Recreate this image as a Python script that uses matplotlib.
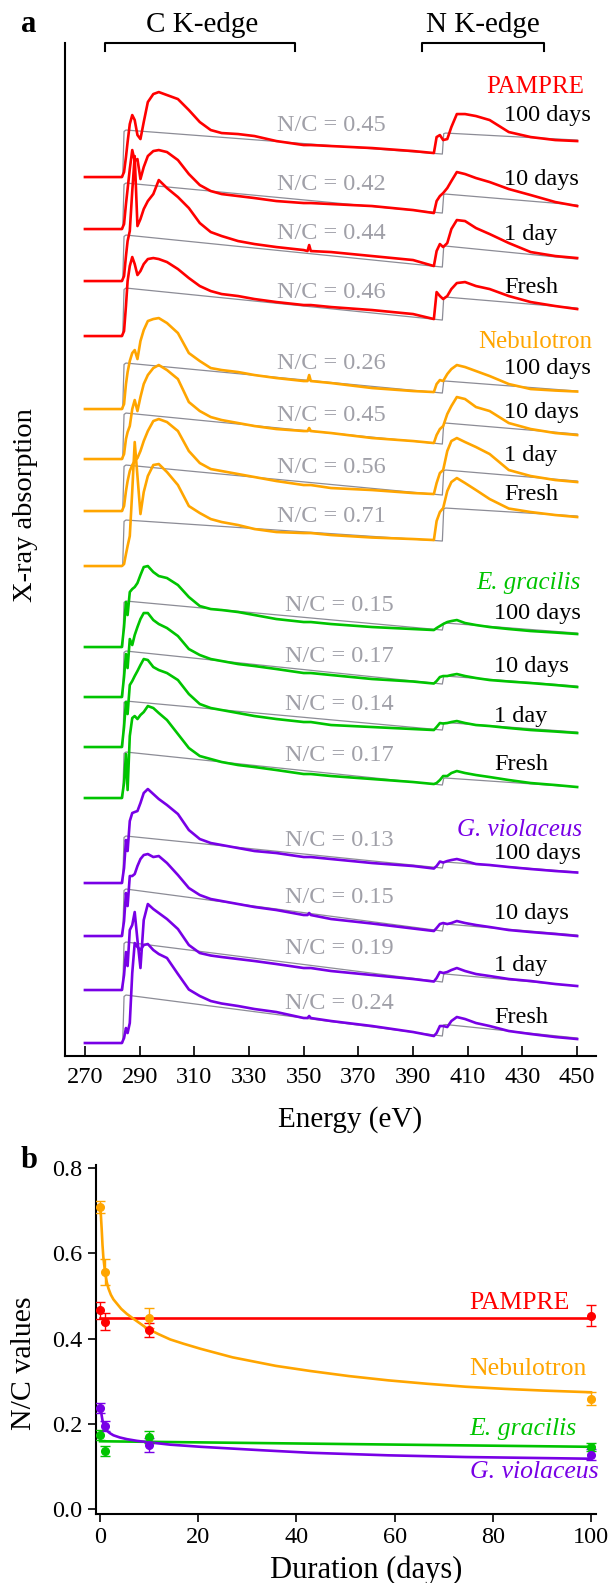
import matplotlib
matplotlib.use('Agg')
import matplotlib.pyplot as plt
import matplotlib.transforms as mtransforms

plt.rcParams['font.family'] = ['Liberation Serif', 'DejaVu Serif']

# ---- panel a data: XANES spectra (a.u., relative to pre-edge) ----
energy = [270, 283.5, 284.3, 285.0, 285.6, 286.4, 287.3, 288.2, 289.2, 290.3, 291.5, 293,
          295, 297, 300, 304, 308, 312, 316, 320, 326, 332, 340, 350, 351.4, 352.0, 352.6,
          360, 375, 390, 397.6, 398.6, 399.8, 401.0, 402.5, 404, 406, 409, 413, 418, 425,
          433, 442, 450]

pampre_100d = [0, 0, 0.05, 0.20, 0.35, 0.53, 0.62, 0.57, 0.42, 0.38, 0.55, 0.75, 0.83, 0.85, 0.82,
               0.78, 0.67, 0.55, 0.47, 0.44, 0.43, 0.41, 0.36, 0.32, 0.32, 0.32, 0.32, 0.31, 0.29,
               0.26, 0.24, 0.40, 0.42, 0.37, 0.38, 0.50, 0.63, 0.63, 0.61, 0.57, 0.45, 0.40, 0.37, 0.36]
pampre_10d = [0, 0, 0.05, 0.25, 0.40, 0.60, 0.79, 0.68, 0.70, 0.50, 0.62, 0.73, 0.78, 0.79, 0.77,
              0.69, 0.55, 0.44, 0.38, 0.35, 0.33, 0.31, 0.28, 0.26, 0.26, 0.26, 0.26, 0.25, 0.23,
              0.19, 0.16, 0.28, 0.33, 0.36, 0.41, 0.48, 0.57, 0.55, 0.51, 0.47, 0.40, 0.34, 0.27, 0.23]
pampre_1d = [0, 0, 0.05, 0.25, 0.40, 0.50, 0.90, 1.25, 0.55, 0.62, 0.72, 0.80, 0.87, 1.01, 0.93,
             0.84, 0.73, 0.58, 0.49, 0.45, 0.40, 0.37, 0.34, 0.31, 0.30, 0.36, 0.30, 0.29, 0.25,
             0.21, 0.15, 0.30, 0.37, 0.34, 0.38, 0.52, 0.61, 0.60, 0.53, 0.47, 0.38, 0.29, 0.25, 0.23]
pampre_fresh = [0, 0, 0.05, 0.30, 0.55, 0.70, 0.79, 0.72, 0.61, 0.65, 0.72, 0.77, 0.78, 0.77, 0.74,
                0.67, 0.58, 0.50, 0.45, 0.42, 0.40, 0.37, 0.34, 0.31, 0.31, 0.31, 0.31, 0.29, 0.26,
                0.22, 0.17, 0.44, 0.40, 0.37, 0.40, 0.47, 0.53, 0.54, 0.50, 0.47, 0.40, 0.34, 0.30, 0.27]

nebulo_100d = [0, 0, 0.05, 0.25, 0.37, 0.48, 0.56, 0.59, 0.50, 0.68, 0.79, 0.88, 0.90, 0.91, 0.86,
               0.76, 0.56, 0.48, 0.41, 0.39, 0.37, 0.34, 0.31, 0.28, 0.28, 0.34, 0.28, 0.26, 0.21,
               0.18, 0.17, 0.25, 0.29, 0.28, 0.35, 0.40, 0.44, 0.42, 0.38, 0.33, 0.25, 0.20, 0.185, 0.175]
nebulo_10d = [0, 0, 0.05, 0.20, 0.27, 0.33, 0.50, 0.59, 0.48, 0.62, 0.75, 0.84, 0.91, 0.94, 0.89,
              0.80, 0.57, 0.48, 0.42, 0.39, 0.36, 0.33, 0.30, 0.28, 0.28, 0.31, 0.28, 0.26, 0.21,
              0.18, 0.16, 0.24, 0.30, 0.33, 0.45, 0.53, 0.62, 0.60, 0.52, 0.48, 0.36, 0.30, 0.26, 0.24]
nebulo_1d = [0, 0, 0.05, 0.20, 0.30, 0.40, 0.46, 0.50, 0.53, 0.60, 0.70, 0.80, 0.90, 0.92, 0.89,
             0.80, 0.60, 0.48, 0.42, 0.40, 0.37, 0.34, 0.30, 0.26, 0.26, 0.26, 0.26, 0.23, 0.21,
             0.18, 0.17, 0.28, 0.38, 0.41, 0.60, 0.70, 0.73, 0.69, 0.64, 0.57, 0.41, 0.35, 0.31, 0.29]
nebulo_fresh = [0, 0, 0.02, 0.12, 0.20, 0.30, 0.75, 1.24, 0.90, 0.52, 0.74, 0.90, 1.01, 1.02, 0.94,
                0.81, 0.60, 0.53, 0.47, 0.44, 0.41, 0.37, 0.34, 0.33, 0.33, 0.33, 0.33, 0.31, 0.285,
                0.27, 0.26, 0.45, 0.54, 0.58, 0.75, 0.84, 0.88, 0.83, 0.76, 0.67, 0.575, 0.54, 0.51, 0.49]

egrac_100d = [0, 0, 0.20, 0.45, 0.32, 0.55, 0.58, 0.60, 0.64, 0.72, 0.80, 0.81, 0.75, 0.71, 0.69,
              0.62, 0.50, 0.41, 0.38, 0.37, 0.35, 0.32, 0.28, 0.25, 0.25, 0.25, 0.25, 0.23, 0.20,
              0.18, 0.17, 0.19, 0.21, 0.23, 0.25, 0.26, 0.27, 0.24, 0.22, 0.20, 0.18, 0.16, 0.145, 0.13]
egrac_10d = [0, 0, 0.20, 0.43, 0.29, 0.58, 0.52, 0.62, 0.70, 0.78, 0.84, 0.84, 0.77, 0.73, 0.69,
             0.61, 0.48, 0.42, 0.38, 0.36, 0.33, 0.31, 0.28, 0.24, 0.24, 0.24, 0.24, 0.22, 0.18,
             0.155, 0.135, 0.16, 0.20, 0.21, 0.21, 0.22, 0.23, 0.21, 0.19, 0.17, 0.155, 0.14, 0.12, 0.10]
egrac_1d = [0, 0, 0.20, 0.45, 0.33, 0.62, 0.66, 0.71, 0.76, 0.82, 0.88, 0.87, 0.80, 0.77, 0.74,
            0.67, 0.53, 0.43, 0.39, 0.37, 0.34, 0.31, 0.28, 0.25, 0.25, 0.25, 0.25, 0.22, 0.20,
            0.18, 0.17, 0.20, 0.24, 0.235, 0.24, 0.25, 0.26, 0.24, 0.22, 0.21, 0.19, 0.17, 0.155, 0.14]
egrac_fresh = [0, 0, 0.15, 0.44, 0.08, 0.62, 0.80, 0.82, 0.79, 0.83, 0.86, 0.92, 0.90, 0.85, 0.78,
               0.64, 0.50, 0.42, 0.39, 0.36, 0.33, 0.31, 0.28, 0.24, 0.24, 0.24, 0.24, 0.22, 0.19,
               0.16, 0.14, 0.15, 0.18, 0.22, 0.22, 0.25, 0.27, 0.25, 0.23, 0.21, 0.18, 0.15, 0.13, 0.11]

gviol_100d = [0, 0, 0.15, 0.43, 0.32, 0.62, 0.70, 0.71, 0.72, 0.80, 0.90, 0.94, 0.89, 0.84, 0.78,
              0.69, 0.53, 0.44, 0.40, 0.38, 0.35, 0.32, 0.30, 0.26, 0.26, 0.26, 0.26, 0.24, 0.20,
              0.17, 0.145, 0.17, 0.215, 0.205, 0.22, 0.23, 0.24, 0.22, 0.19, 0.18, 0.16, 0.14, 0.12, 0.105]
gviol_10d = [0, 0, 0.15, 0.43, 0.30, 0.60, 0.60, 0.62, 0.70, 0.77, 0.81, 0.82, 0.79, 0.80, 0.73,
             0.61, 0.48, 0.41, 0.37, 0.35, 0.32, 0.29, 0.26, 0.21, 0.21, 0.23, 0.21, 0.17, 0.125,
             0.075, 0.05, 0.08, 0.12, 0.13, 0.12, 0.13, 0.15, 0.13, 0.11, 0.09, 0.06, 0.04, 0.02, 0.0]
gviol_1d = [0, 0, 0.15, 0.38, 0.24, 0.60, 0.65, 0.78, 0.50, 0.22, 0.70, 0.86, 0.81, 0.77, 0.71,
            0.61, 0.45, 0.37, 0.345, 0.33, 0.31, 0.29, 0.26, 0.22, 0.22, 0.22, 0.22, 0.19, 0.15,
            0.11, 0.085, 0.12, 0.18, 0.17, 0.18, 0.20, 0.22, 0.19, 0.16, 0.14, 0.11, 0.09, 0.06, 0.04]
gviol_fresh = [0, 0, 0.05, 0.15, 0.10, 0.20, 0.70, 1.00, 0.96, 0.93, 0.98, 0.99, 0.93, 0.89, 0.85,
               0.69, 0.535, 0.47, 0.42, 0.395, 0.37, 0.34, 0.31, 0.25, 0.25, 0.27, 0.25, 0.22, 0.17,
               0.11, 0.07, 0.10, 0.17, 0.17, 0.16, 0.22, 0.26, 0.24, 0.20, 0.17, 0.12, 0.09, 0.06, 0.04]

# step-function fits (grey): C-edge top, C-edge end, N-edge top, N-edge end
step_pampre = [[0.47, 0.23, 0.44, 0.37], [0.46, 0.16, 0.35, 0.24],
               [0.46, 0.14, 0.35, 0.22], [0.48, 0.16, 0.39, 0.28]]
step_nebulo = [[0.46, 0.16, 0.28, 0.18], [0.46, 0.15, 0.36, 0.25],
               [0.46, 0.16, 0.41, 0.30], [0.46, 0.25, 0.58, 0.50]]
step_egrac = [[0.46, 0.17, 0.24, 0.14], [0.46, 0.13, 0.21, 0.11],
              [0.46, 0.17, 0.245, 0.15], [0.46, 0.13, 0.20, 0.11]]
step_gviol = [[0.47, 0.15, 0.21, 0.11], [0.47, 0.05, 0.12, 0.01],
              [0.48, 0.08, 0.16, 0.04], [0.48, 0.07, 0.185, 0.05]]

nc_pampre = ['0.45', '0.42', '0.44', '0.46']
nc_nebulo = ['0.26', '0.45', '0.56', '0.71']
nc_egrac = ['0.15', '0.17', '0.14', '0.17']
nc_gviol = ['0.13', '0.15', '0.19', '0.24']
ages = ['100 days', '10 days', '1 day', 'Fresh']

# ---- panel b data ----
days = [0, 1, 10, 100]
nc_b_pampre = [0.466, 0.440, 0.420, 0.454]
err_b_pampre = [0.020, 0.020, 0.017, 0.025]
nc_b_nebulo = [0.708, 0.556, 0.448, 0.259]
err_b_nebulo = [0.014, 0.030, 0.023, 0.016]
nc_b_egrac = [0.174, 0.136, 0.168, 0.145]
err_b_egrac = [0.012, 0.012, 0.014, 0.010]
nc_b_gviol = [0.237, 0.194, 0.150, 0.127]
err_b_gviol = [0.012, 0.012, 0.016, 0.013]

fit_pampre_t = [0, 100]
fit_pampre = [0.448, 0.448]
fit_egrac_t = [0, 100]
fit_egrac = [0.159, 0.146]
fit_nebulo_t = [0, 0.17, 0.34, 0.5, 0.68, 1.0, 1.37, 1.7, 2.2, 2.73, 3.3, 4.3, 5.46, 7, 9.56,
                12, 14.3, 17, 20.5, 27, 35.8, 42.8, 50.7, 58.7, 66.6, 74.5, 82.4, 90.3, 100]
fit_nebulo = [0.710, 0.690, 0.656, 0.620, 0.590, 0.558, 0.533, 0.518, 0.503, 0.492, 0.484,
              0.470, 0.458, 0.445, 0.424, 0.410, 0.398, 0.388, 0.376, 0.356, 0.336, 0.324,
              0.312, 0.302, 0.294, 0.287, 0.282, 0.278, 0.274]
fit_gviol_t = [0, 0.17, 0.34, 0.5, 0.68, 1.0, 1.37, 2.0, 2.73, 4.0, 5.46, 7.5, 9.56, 14.3,
               20.5, 32.8, 42.8, 58.7, 74.5, 100]
fit_gviol = [0.242, 0.232, 0.219, 0.208, 0.200, 0.191, 0.184, 0.178, 0.173, 0.168, 0.164,
             0.160, 0.157, 0.151, 0.146, 0.138, 0.132, 0.126, 0.122, 0.118]

RED, ORANGE, GREEN, PURPLE = '#ff0000', '#ffa500', '#00c400', '#7800e6'
GREY_LINE, GREY_TEXT = '#8c8c96', '#a0a0a8'

groups = [
    ('PAMPRE', RED, False, [pampre_100d, pampre_10d, pampre_1d, pampre_fresh], step_pampre, nc_pampre),
    ('Nebulotron', ORANGE, False, [nebulo_100d, nebulo_10d, nebulo_1d, nebulo_fresh], step_nebulo, nc_nebulo),
    ('E. gracilis', GREEN, True, [egrac_100d, egrac_10d, egrac_1d, egrac_fresh], step_egrac, nc_egrac),
    ('G. violaceus', PURPLE, True, [gviol_100d, gviol_10d, gviol_1d, gviol_fresh], step_gviol, nc_gviol),
]

# layout: stacking offsets and label positions (axis units)
offsets = [[8.79, 8.27, 7.75, 7.20], [6.47, 5.97, 5.45, 4.90],
           [4.09, 3.59, 3.09, 2.58], [1.73, 1.20, 0.66, 0.13]]
name_y = [9.69, 7.14, 4.73, 2.26]
name_x = [452.4, 455.5, 451.3, 451.7]
age_y = [[9.41, 8.77, 8.22, 7.69], [6.88, 6.44, 6.01, 5.62],
         [4.43, 3.90, 3.40, 2.92], [2.03, 1.43, 0.91, 0.39]]
age_x = [423.2, 423.2, 419.6, 419.6]
nc_y = [[9.31, 8.72, 8.23, 7.64], [6.93, 6.41, 5.89, 5.40],
        [4.51, 4.00, 3.52, 3.01], [2.16, 1.59, 1.08, 0.53]]
nc_x = [340.3, 340.3, 343.0, 343.0]

fig = plt.figure(figsize=(6.09, 15.83), dpi=100)

# ================= panel a =================
ax = fig.add_axes([0.1067, 0.3329, 0.8720, 0.6399])
ax.set_xlim(262.7, 456.9)
ax.set_ylim(0, 10.13)

step_E = [270, 283.8, 284.3, 285.0, 400.7, 401.2, 401.9, 450]
for gi, (name, col, ital, spectra, steps, ncs) in enumerate(groups):
    for si in range(4):
        off = offsets[gi][si]
        ct, ce, nt, ne = steps[si]
        gy = [0, 0, ct * 0.97, ct, ce, ce + (nt - ce) * 0.97, nt, ne]
        ax.plot(step_E, [v + off for v in gy], color=GREY_LINE, lw=0.9, zorder=1)
    for si in range(4):
        off = offsets[gi][si]
        ax.plot(energy, [v + off for v in spectra[si]], color=col, lw=1.9,
                solid_joinstyle='round', zorder=2)
        ax.text(age_x[gi], age_y[gi][si], ages[si], fontsize=17.5, ha='left',
                va='center', color='black', zorder=4)
        ax.text(nc_x[gi], nc_y[gi][si], 'N/C = ' + ncs[si], fontsize=17.5, ha='left',
                va='center', color=GREY_TEXT, zorder=3)
    ax.text(name_x[gi], name_y[gi], name, fontsize=18, ha='right', va='center',
            color=col, fontstyle='italic' if ital else 'normal', zorder=4)

for s in ['top', 'right']:
    ax.spines[s].set_visible(False)
ax.spines['left'].set_linewidth(1.5)
ax.spines['bottom'].set_linewidth(1.5)
ax.set_yticks([])
ax.set_xticks(range(270, 451, 20))
ax.tick_params(axis='x', direction='in', length=7, width=1.2, labelsize=17.5, pad=8)

trans = mtransforms.blended_transform_factory(ax.transData, ax.transAxes)
for x0, x1 in [(277.5, 346.7), (393.2, 437.7)]:
    ax.plot([x0, x0, x1, x1], [0.992, 1.0, 1.0, 0.992], color='black', lw=1.5,
            transform=trans, clip_on=False)

fig.text(0.3314, 1 - 25 / 1583, 'C K-edge', fontsize=21, ha='center', va='center')
fig.text(0.793, 1 - 25 / 1583, 'N K-edge', fontsize=21, ha='center', va='center')
fig.text(29 / 609, 1 - 25 / 1583, 'a', fontsize=22, fontweight='bold', ha='center', va='center')
fig.text(350 / 609, 1 - 1120 / 1583, 'Energy (eV)', fontsize=21, ha='center', va='center')
fig.text(26 / 609, 1 - 505 / 1583, 'X-ray absorption', fontsize=20.5, rotation=90,
         ha='center', va='center')

# ================= panel b =================
bx = fig.add_axes([0.1575, 0.0436, 0.8210, 0.2205])
bx.set_xlim(-0.84, 101.0)
bx.set_ylim(-0.0117, 0.8077)

fits = [(fit_pampre_t, fit_pampre, RED), (fit_nebulo_t, fit_nebulo, ORANGE),
        (fit_egrac_t, fit_egrac, GREEN), (fit_gviol_t, fit_gviol, PURPLE)]
for t, v, col in fits:
    bx.plot(t, v, color=col, lw=1.9, zorder=2, solid_joinstyle='round')

points = [(nc_b_pampre, err_b_pampre, RED), (nc_b_nebulo, err_b_nebulo, ORANGE),
          (nc_b_egrac, err_b_egrac, GREEN), (nc_b_gviol, err_b_gviol, PURPLE)]
for v, e, col in points:
    bx.errorbar(days, v, yerr=e, fmt='o', color=col, ms=5.5, elinewidth=1.0,
                capsize=3.5, capthick=1.0, zorder=3)

bx.text(75.3, 0.483, 'PAMPRE', color=RED, fontsize=18.5, ha='left', va='center')
bx.text(75.3, 0.329, 'Nebulotron', color=ORANGE, fontsize=18.5, ha='left', va='center')
bx.text(75.3, 0.188, 'E. gracilis', color=GREEN, fontsize=18.5, ha='left', va='center',
        fontstyle='italic')
bx.text(75.3, 0.088, 'G. violaceus', color=PURPLE, fontsize=18.5, ha='left', va='center',
        fontstyle='italic')

for s in ['top', 'right']:
    bx.spines[s].set_visible(False)
bx.spines['left'].set_linewidth(1.5)
bx.spines['bottom'].set_linewidth(1.5)
bx.set_xticks([0, 20, 40, 60, 80, 100])
bx.set_yticks([0.0, 0.2, 0.4, 0.6, 0.8])
bx.set_yticklabels(['0.0', '0.2', '0.4', '0.6', '0.8'])
bx.tick_params(direction='out', length=6, width=1.2, labelsize=17.5)

fig.text(29 / 609, 1 - 1160 / 1583, 'b', fontsize=22, fontweight='bold', ha='center', va='center')
fig.text(24 / 609, 1 - 1363 / 1583, 'N/C values', fontsize=21.5, rotation=90,
         ha='center', va='center')
fig.text(366 / 609, 1 - 1570 / 1583, 'Duration (days)', fontsize=22, ha='center', va='center')

fig.savefig('out.png', dpi=100)
